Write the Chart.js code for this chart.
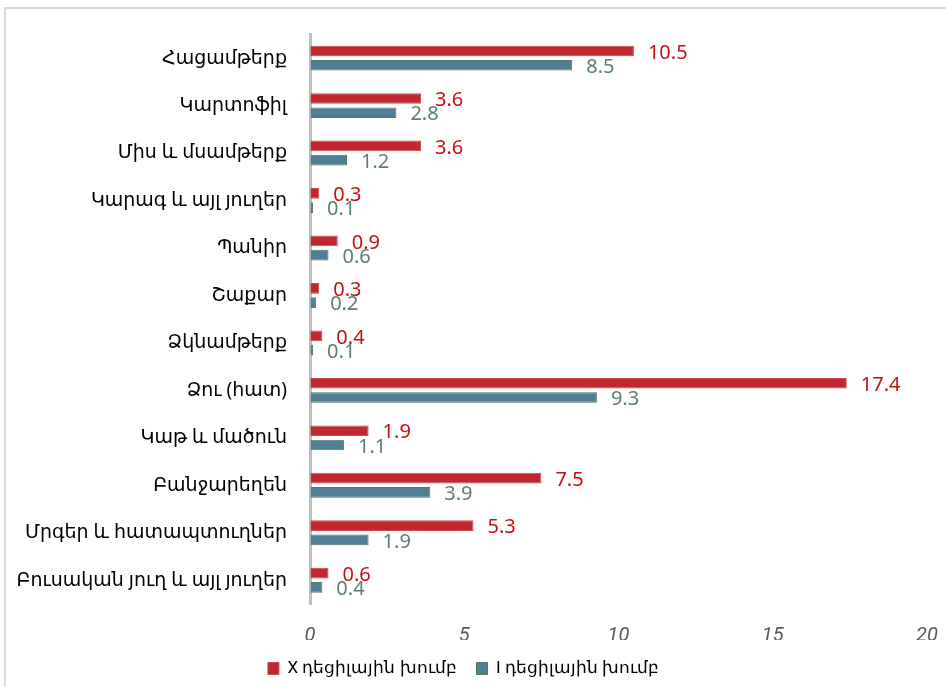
<!DOCTYPE html>
<html>
<head>
<meta charset="utf-8">
<script src="https://cdn.jsdelivr.net/npm/chart.js@4.4.1/dist/chart.umd.min.js"></script>
<style>
    html, body { margin: 0; padding: 0; background: #fff; overflow: hidden; }
    #frame { position: absolute; left: 4px; top: 7px; width: 1000px; height: 800px;
             border-left: 2px solid #d9d9d9; border-top: 2px solid #d9d9d9; }
    #wrap { position: absolute; left: 0; top: 0; width: 946px; height: 687px; }
</style>
</head>
<body>
<div id="frame"></div>
<div id="wrap"><canvas id="bar_chart"></canvas></div>
<script>
var categories = ["Հացամթերք", "Կարտոֆիլ", "Միս և մսամթերք", "Կարագ և այլ յուղեր", "Պանիր", "Շաքար",
    "Ձկնամթերք", "Ձու (հատ)", "Կաթ և մածուն", "Բանջարեղեն", "Մրգեր և հատապտուղներ", "Բուսական յուղ և այլ յուղեր"];
var decile10 = [10.5, 3.6, 3.6, 0.3, 0.9, 0.3, 0.4, 17.4, 1.9, 7.5, 5.3, 0.6]; // X decile group
var decile1 = [8.5, 2.8, 1.2, 0.1, 0.6, 0.2, 0.1, 9.3, 1.1, 3.9, 1.9, 0.4];     // I decile group
var seriesNames = ["X դեցիլային խումբ", "I դեցիլային խումբ"];
var xTicks = [0, 5, 10, 15, 20];

var labelFont = "'Noto Sans', 'DejaVu Sans', sans-serif";
var narrowFont = "'Liberation Sans Narrow', 'Roboto', sans-serif";

// draws the value next to the end of each bar
var valueLabels = {
    id: 'valueLabels',
    afterDatasetsDraw: function (chart) {
        var ctx = chart.ctx;
        ctx.save();
        ctx.font = '20px ' + labelFont;
        ctx.textAlign = 'left';
        ctx.textBaseline = 'middle';
        chart.data.datasets.forEach(function (ds, i) {
            var meta = chart.getDatasetMeta(i);
            ctx.fillStyle = ds.labelColor;
            meta.data.forEach(function (bar, j) {
                ctx.fillText(ds.data[j].toFixed(1), bar.x + 14, bar.y + 2);
            });
        });
        ctx.restore();
    }
};

new Chart(document.getElementById("bar_chart").getContext("2d"), {
    type: 'bar',
    data: {
        labels: categories,
        datasets: [{
            label: seriesNames[0],
            data: decile10,
            backgroundColor: '#c0282d',
            borderColor: '#cc4a4c',
            borderWidth: 1,
            labelColor: '#c80f14',
            categoryPercentage: 0.6,
            barPercentage: 0.75
        }, {
            label: seriesNames[1],
            data: decile1,
            backgroundColor: '#4f7e96',
            borderColor: '#4f7a60',
            borderWidth: 1,
            labelColor: '#5b8070',
            categoryPercentage: 0.6,
            barPercentage: 0.75
        }]
    },
    options: {
        indexAxis: 'y',
        responsive: true,
        maintainAspectRatio: false,
        animation: false,
        layout: { padding: { top: 33, right: 19, left: 0, bottom: 0 } },
        scales: {
            x: {
                min: 0,
                max: 20,
                afterBuildTicks: function (scale) {
                    scale.ticks = xTicks.map(function (v) { return { value: v }; });
                },
                // invisible tick marks push the labels down without eating into the right side
                grid: { display: true, drawOnChartArea: false, drawTicks: true, tickLength: 18, color: 'rgba(0,0,0,0)' },
                border: { display: false },
                ticks: {
                    padding: 2,
                    color: '#595959',
                    font: { family: narrowFont, size: 20, style: 'italic' }
                },
                afterFit: function (scale) { scale.height = 36; }
            },
            y: {
                grid: { display: false, drawTicks: false },
                border: { display: true, color: '#bfbfbf', width: 3 },
                ticks: {
                    padding: 23,
                    color: '#000',
                    font: { family: labelFont, size: 19 }
                },
                afterFit: function (scale) { scale.width = 310; }
            }
        },
        plugins: {
            legend: {
                position: 'bottom',
                labels: {
                    boxWidth: 11,
                    boxHeight: 12,
                    padding: 20,
                    color: '#000',
                    font: { family: narrowFont, size: 17 }
                }
            },
            tooltip: { enabled: false }
        }
    },
    plugins: [valueLabels]
});
</script>
</body>
</html>
